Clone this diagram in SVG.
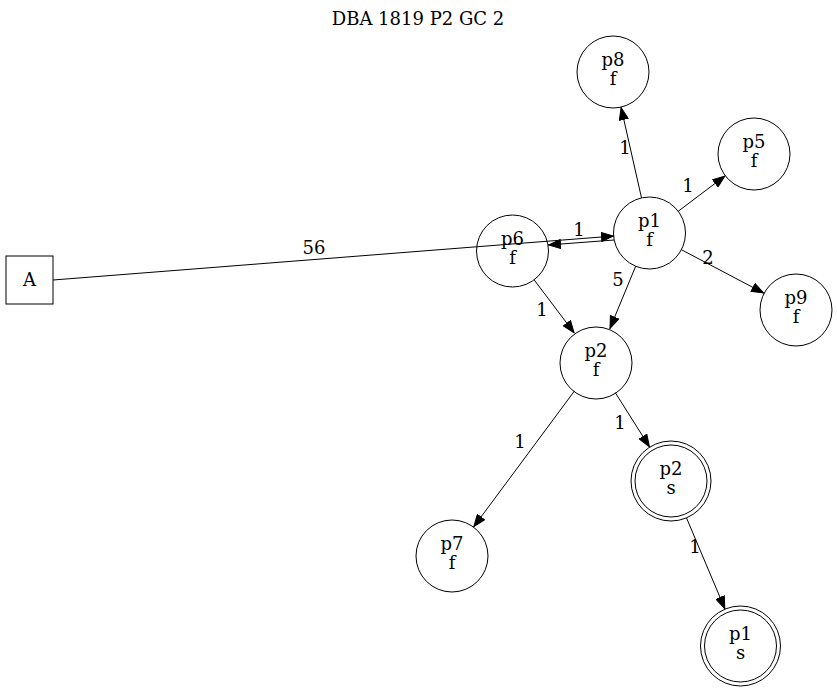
<svg xmlns="http://www.w3.org/2000/svg" width="837" height="693" viewBox="0 0 837 693">
  <style>
    text { font-family: "DejaVu Serif", "Liberation Serif", serif; font-size: 18px; fill: #000; text-anchor: middle; }
    .node circle, .node rect { fill: none; stroke: #000; stroke-width: 1; }
    .edge { fill: none; stroke: #000; stroke-width: 1; marker-end: url(#arrow); }
  </style>
  <defs>
    <marker id="arrow" viewBox="0 0 13 10" refX="13" refY="5" markerWidth="13" markerHeight="10" markerUnits="userSpaceOnUse" orient="auto">
      <path d="M0.5,0.5 L12.5,5 L0.5,9.5 Z" fill="#000" stroke="#000" stroke-width="1"/>
    </marker>
  </defs>
  <rect width="837" height="693" fill="#fff"/>

  <text x="418" y="25">DBA 1819 P2 GC 2</text>

  <!-- connectors -->
  <g id="edges">
    <path class="edge" d="M53,280 L614,236"/>
    <text x="314" y="254">56</text>
    <path class="edge" d="M614,240 L548,245"/>
    <text x="579" y="236">1</text>
    <path class="edge" d="M641.5,197.9 L621,107.1"/>
    <text x="625" y="154">1</text>
    <path class="edge" d="M678.2,211.3 L725.3,175.7"/>
    <text x="688" y="192">1</text>
    <path class="edge" d="M681.4,249.7 L764.1,293.3"/>
    <text x="708" y="264">2</text>
    <path class="edge" d="M635.7,266.2 L609.8,328.8"/>
    <text x="618" y="286">5</text>
    <path class="edge" d="M534.1,279.8 L574.4,333.2"/>
    <text x="542" y="316">1</text>
    <path class="edge" d="M615.2,392.5 L649.7,447.2"/>
    <text x="620" y="429">1</text>
    <path class="edge" d="M574.5,390.9 L473.5,527.1"/>
    <text x="520" y="448">1</text>
    <path class="edge" d="M686.5,517.9 L725,609.1"/>
    <text x="695" y="553">1</text>
  </g>

  <!-- nodes -->
  <g id="A" class="node">
    <rect x="6" y="256" width="47" height="48"/>
    <text x="29.5" y="286">A</text>
  </g>
  <g id="p6" class="node">
    <circle cx="512.5" cy="251" r="36"/>
    <text x="512.5" y="245">p6</text>
    <text x="512.5" y="264">f</text>
  </g>
  <g id="p1" class="node">
    <circle cx="649.5" cy="233" r="36"/>
    <text x="649.5" y="227">p1</text>
    <text x="649.5" y="246">f</text>
  </g>
  <g id="p8" class="node">
    <circle cx="613" cy="72" r="36"/>
    <text x="613" y="66">p8</text>
    <text x="613" y="85">f</text>
  </g>
  <g id="p5" class="node">
    <circle cx="754" cy="154" r="36"/>
    <text x="754" y="148">p5</text>
    <text x="754" y="167">f</text>
  </g>
  <g id="p9" class="node">
    <circle cx="796" cy="310" r="36"/>
    <text x="796" y="304">p9</text>
    <text x="796" y="323">f</text>
  </g>
  <g id="p2f" class="node">
    <circle cx="596" cy="363" r="36"/>
    <text x="596" y="357">p2</text>
    <text x="596" y="376">f</text>
  </g>
  <g id="p2s" class="node">
    <circle cx="671" cy="481" r="36"/>
    <circle cx="671" cy="481" r="40"/>
    <text x="671" y="475">p2</text>
    <text x="671" y="494">s</text>
  </g>
  <g id="p1s" class="node">
    <circle cx="740.5" cy="646" r="36"/>
    <circle cx="740.5" cy="646" r="40"/>
    <text x="740.5" y="640">p1</text>
    <text x="740.5" y="659">s</text>
  </g>
  <g id="p7" class="node">
    <circle cx="452" cy="556" r="36"/>
    <text x="452" y="550">p7</text>
    <text x="452" y="569">f</text>
  </g>
</svg>
